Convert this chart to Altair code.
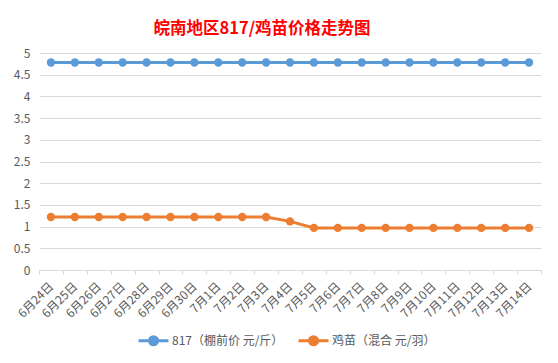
import altair as alt
import pandas as pd

dates = ["6月24日", "6月25日", "6月26日", "6月27日", "6月28日", "6月29日", "6月30日",
         "7月1日", "7月2日", "7月3日", "7月4日", "7月5日", "7月6日", "7月7日",
         "7月8日", "7月9日", "7月10日", "7月11日", "7月12日", "7月13日", "7月14日"]
s817 = [4.78] * 21
chick = [1.22, 1.22, 1.22, 1.22, 1.22, 1.22, 1.22, 1.22, 1.22, 1.22, 1.12,
         0.97, 0.97, 0.97, 0.97, 0.97, 0.97, 0.97, 0.97, 0.97, 0.97]
names = ["817（棚前价 元/斤）", "鸡苗（混合 元/羽）"]
colors = ["#5B9BD5", "#ED7D31"]
yticks = [0, 0.5, 1, 1.5, 2, 2.5, 3, 3.5, 4, 4.5, 5]

rows = []
for d, v in zip(dates, s817):
    rows.append({"date": d, "series": names[0], "value": v})
for d, v in zip(dates, chick):
    rows.append({"date": d, "series": names[1], "value": v})
df = pd.DataFrame(rows)

FONT = "Noto Sans CJK SC"
GRAY = "#595959"

x = alt.X("date:N", sort=dates, title=None,
          scale=alt.Scale(type="band", paddingInner=0, paddingOuter=0),
          axis=alt.Axis(labelAngle=-45, labelAlign="right", labelBaseline="middle",
                        labelPadding=10, labelFontSize=12, labelColor=GRAY, labelFont=FONT,
                        tickBand="extent", tickSize=4, tickColor="#d9d9d9",
                        domainColor="#d9d9d9", grid=False, labelOverlap=False))
y = alt.Y("value:Q", title=None,
          scale=alt.Scale(domain=[0, 5], nice=False, zero=True),
          axis=alt.Axis(values=yticks, format="~g", labelFontSize=12, labelColor=GRAY,
                        labelFont=FONT, domain=False, ticks=False, labelPadding=9,
                        gridColor="#d9d9d9", gridWidth=1))
color = alt.Color("series:N", sort=names,
                  scale=alt.Scale(domain=names, range=colors),
                  legend=alt.Legend(title=None, orient="none", direction="horizontal",
                                    legendX=98, legendY=271,
                                    symbolType="M-1,0L1,0M-0.27,0A0.27,0.27 0 1,1 0.27,0A0.27,0.27 0 1,1 -0.27,0Z",
                                    symbolSize=900, symbolStrokeWidth=3,
                                    labelFontSize=12, labelColor=GRAY, labelFont=FONT,
                                    labelOffset=2, columnPadding=8))

base = alt.Chart(df).encode(x=x, y=y, color=color)
lines = base.mark_line(strokeWidth=3)
pts = base.mark_point(filled=True, size=70, opacity=1)

chart = (lines + pts).properties(
    width=502, height=217,
    padding={"left": 31, "top": 45, "right": 9, "bottom": 85},
    autosize=alt.AutoSizeParams(type="none"),
    title=alt.TitleParams("皖南地区817/鸡苗价格走势图", color="#FF0000", fontSize=16.5,
                          fontWeight="bold", font=FONT, anchor="middle", dx=-28, offset=10),
    background="white",
).configure_view(stroke=None)

chart.save("out.html", embed_options={"renderer": "svg", "actions": False})
